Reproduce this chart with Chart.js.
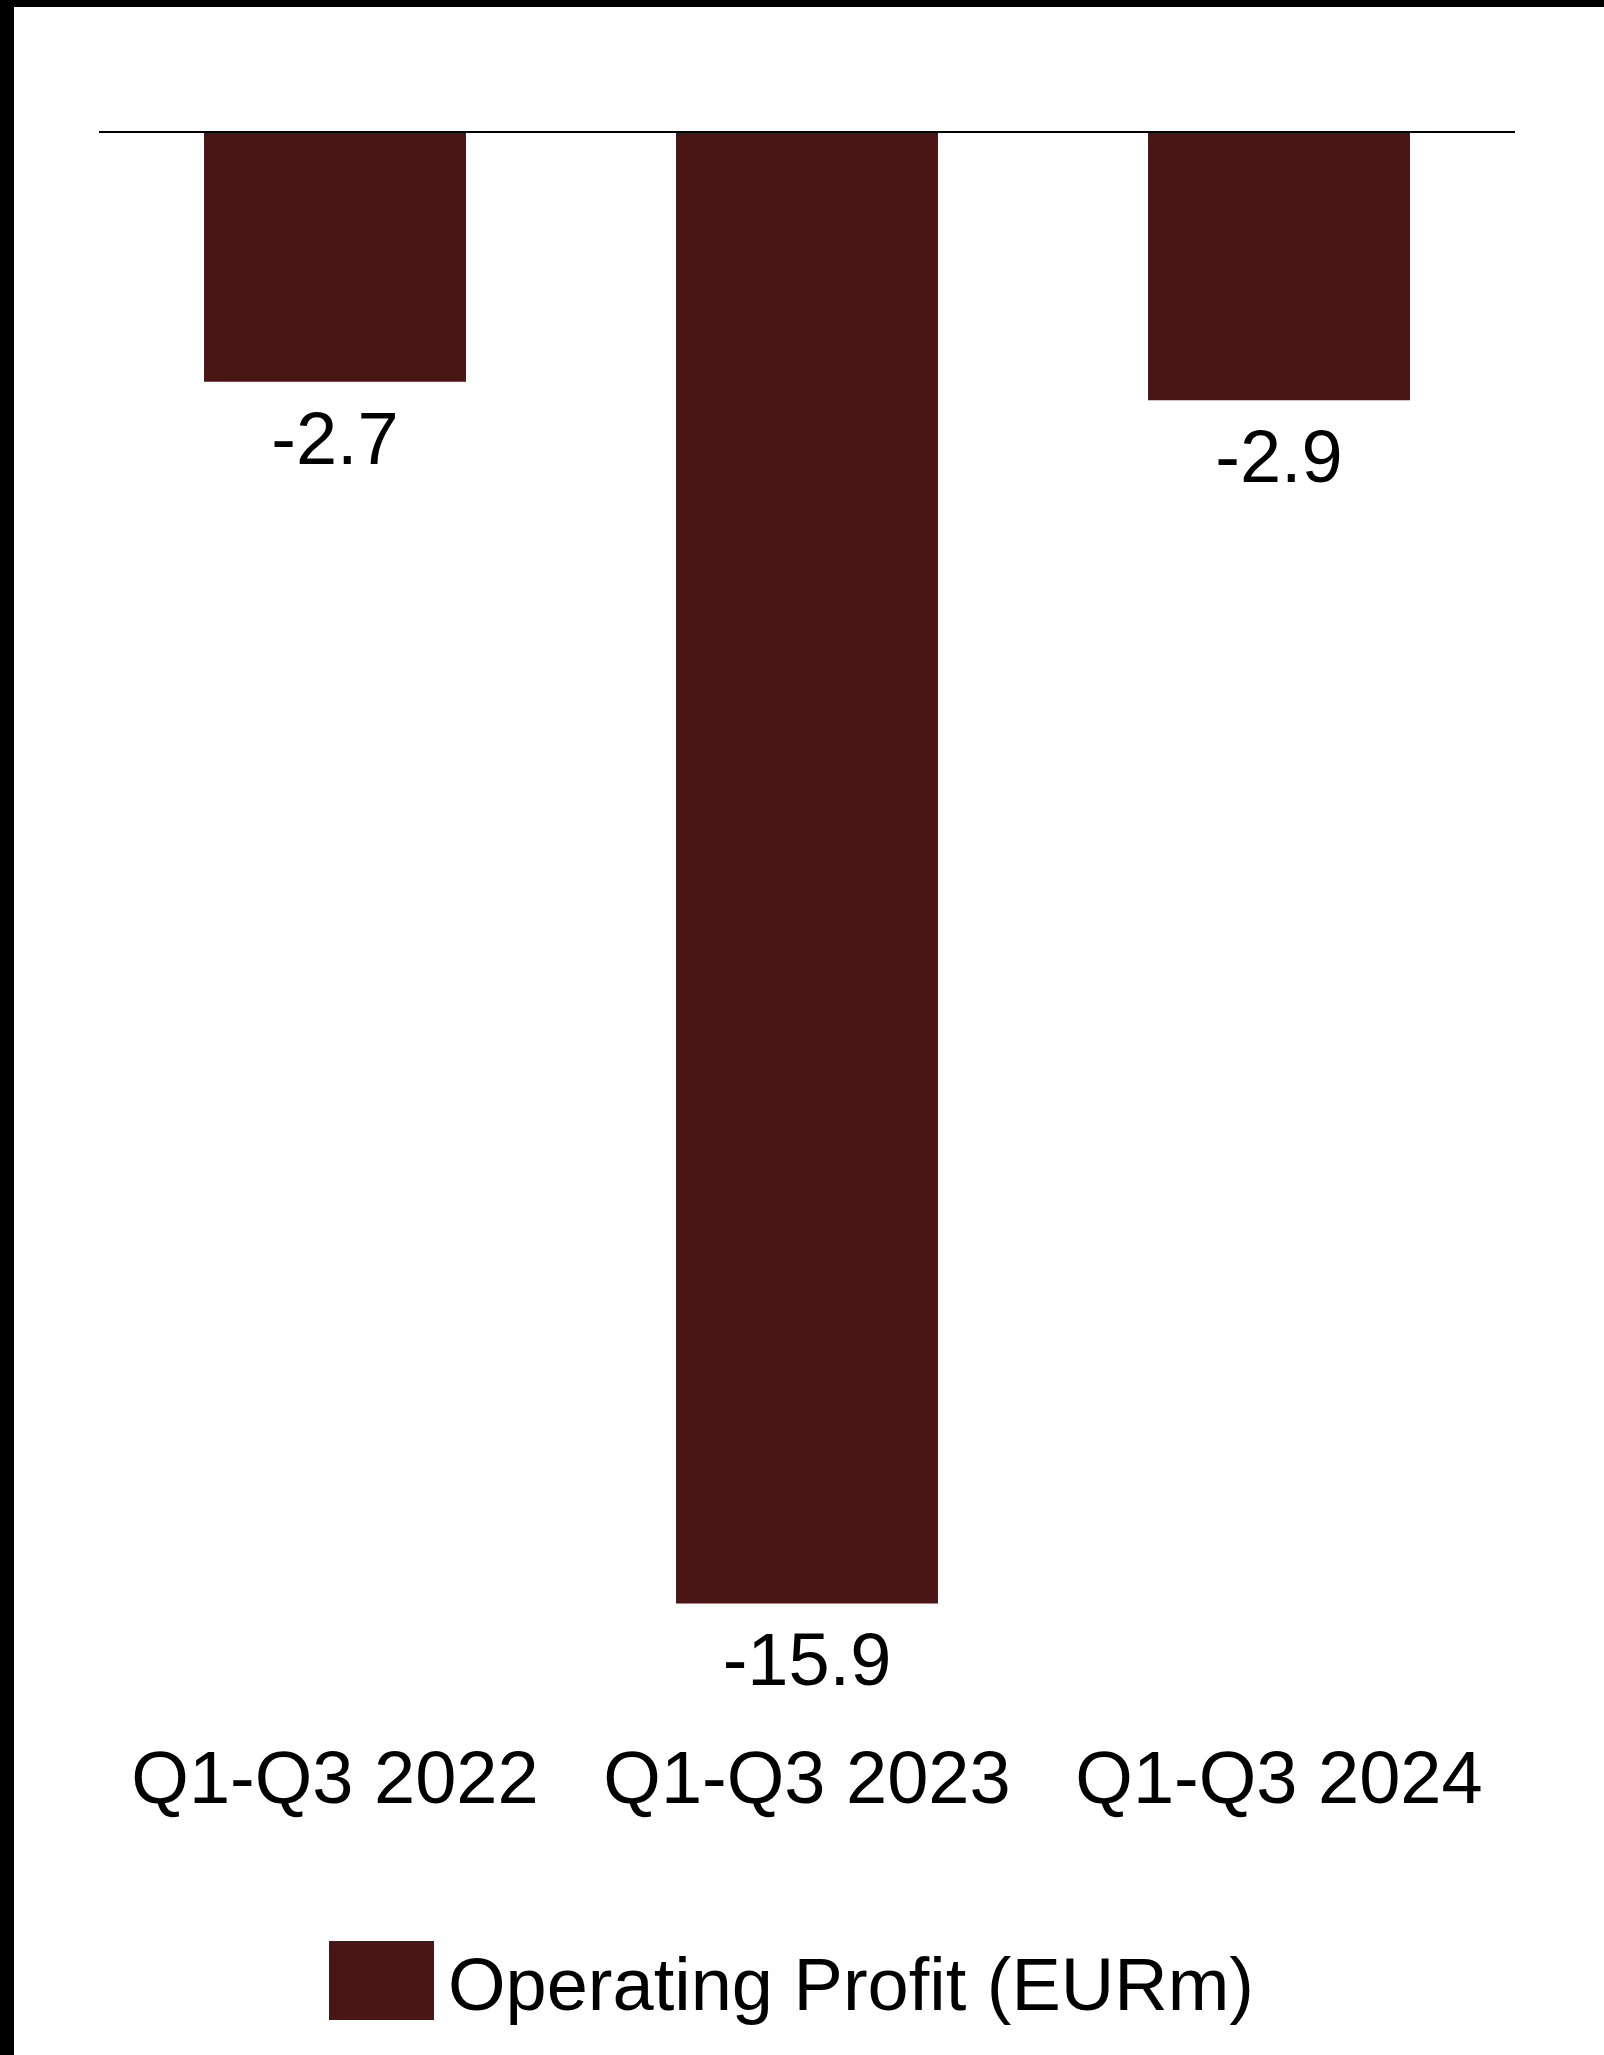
<!DOCTYPE html>
<html>
<head>
<meta charset="utf-8">
<script src="https://cdn.jsdelivr.net/npm/chart.js@4.4.1/dist/chart.umd.min.js"></script>
<style>
  html, body { margin: 0; padding: 0; background: #000; }
  body { width: 1604px; height: 2055px; position: relative; overflow: hidden; }
  #wrap { position: absolute; left: 14px; top: 7px; width: 1590px; height: 2048px; background: #fff; }
</style>
</head>
<body>
<div id="wrap"><canvas id="chart" width="1590" height="2048"></canvas></div>
<script>
// values
const categories = ['Q1-Q3 2022', 'Q1-Q3 2023', 'Q1-Q3 2024'];
const operatingProfit = [-2.7, -15.9, -2.9];
const seriesLabel = 'Operating Profit (EURm)';
const barColor = '#491615';
const fontFamily = '"Liberation Sans", Arial, sans-serif';

// value labels under the bars
const valueLabels = {
  id: 'valueLabels',
  afterDatasetsDraw(chart) {
    const ctx = chart.ctx;
    const meta = chart.getDatasetMeta(0);
    ctx.save();
    ctx.font = '74px ' + fontFamily;
    ctx.fillStyle = '#000';
    ctx.textAlign = 'center';
    ctx.textBaseline = 'alphabetic';
    meta.data.forEach((bar, i) => {
      const v = chart.data.datasets[0].data[i];
      ctx.fillText(v.toFixed(1), bar.x, bar.y + 82);
    });
    ctx.restore();
  }
};

// legend drawn by hand so the box/text gap matches
const legendBox = {
  id: 'legendBox',
  afterDraw(chart) {
    const ctx = chart.ctx;
    const ds = chart.data.datasets[0];
    ctx.save();
    ctx.fillStyle = ds.backgroundColor;
    ctx.fillRect(315, 1934, 105, 79);
    ctx.font = '74px ' + fontFamily;
    ctx.fillStyle = '#000';
    ctx.textAlign = 'left';
    ctx.textBaseline = 'alphabetic';
    ctx.fillText(ds.label, 434, 2003);
    ctx.restore();
  }
};

new Chart(document.getElementById('chart'), {
  type: 'bar',
  data: {
    labels: categories,
    datasets: [{
      label: seriesLabel,
      data: operatingProfit,
      backgroundColor: barColor,
      borderWidth: 0,
      categoryPercentage: 1,
      barPercentage: 0.555
    }]
  },
  options: {
    responsive: false,
    animation: false,
    layout: { padding: { left: 85, right: 89, top: 125, bottom: 203 } },
    plugins: {
      legend: { display: false },
      tooltip: { enabled: false }
    },
    scales: {
      x: {
        grid: { display: false },
        border: { display: false },
        ticks: {
          color: '#000',
          padding: 25,
          maxRotation: 0,
          autoSkip: false,
          font: { family: fontFamily, size: 74 }
        }
      },
      y: {
        min: -17,
        max: 0,
        ticks: { display: false },
        border: { display: false },
        grid: {
          drawTicks: false,
          lineWidth: 2,
          color: c => (c.tick && c.tick.value === 0) ? '#000' : 'rgba(0,0,0,0)'
        }
      }
    }
  },
  plugins: [valueLabels, legendBox]
});
</script>
</body>
</html>
